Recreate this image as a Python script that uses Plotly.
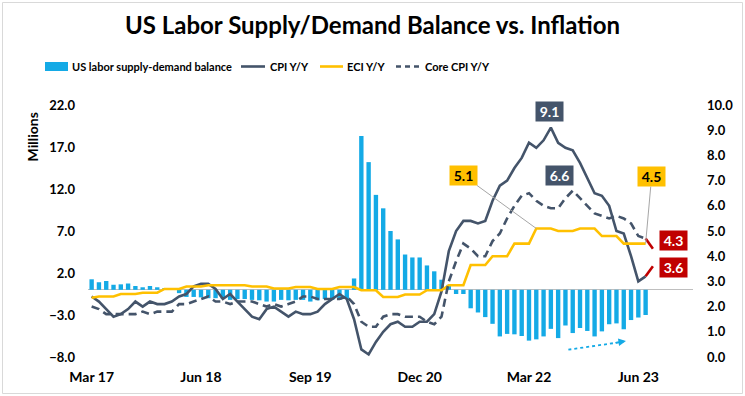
import pandas as pd
import plotly.graph_objects as go

# ---------------- data ----------------
months = pd.date_range("2017-03-01", "2023-08-01", freq="MS").strftime("%b %y").tolist()

tick_labels = ["Mar 17", "Jun 18", "Sep 19", "Dec 20", "Mar 22", "Jun 23"]

# US labor supply-demand balance (millions), Mar 17 .. Jul 23
labor_balance = [
    1.25, 0.9, 1.05, 0.6, 0.65, 0.75, 0.45, 0.3, 0.45, 0.3, 0.15, 0.05,
    -0.4, -0.85, -0.85, -0.9, -1.0, -1.0, -1.05, -1.2, -1.1, -1.1, -1.2, -1.25,
    -1.4, -1.4, -1.2, -1.25, -1.2, -1.2, -1.4, -1.25, -1.1, -1.2, -1.2, -1.1,
    1.35, 18.3, 15.2, 11.3, 9.7, 7.0, 6.0, 4.2, 3.85, 3.85, 2.9, 2.2, 1.2, 0.6,
    -0.5, -0.5, -2.2, -2.7, -3.25, -4.05, -5.55, -5.25, -5.3, -5.5, -6.05, -5.9,
    -5.55, -4.65, -5.75, -4.25, -5.15, -4.55, -4.9, -5.55, -4.95, -4.1, -4.0,
    -4.7, -3.6, -3.3, -3.0,
]

# CPI Y/Y (%), Mar 17 .. Aug 23
cpi = [
    2.4, 2.2, 1.9, 1.6, 1.7, 1.9, 2.2, 2.0, 2.2, 2.1,
    2.1, 2.2, 2.4, 2.5, 2.8, 2.9, 2.9, 2.7, 2.3, 2.5, 2.2, 1.9,
    1.6, 1.5, 1.9, 2.0, 1.8, 1.6, 1.8, 1.7, 1.7, 1.8, 2.1, 2.3,
    2.5, 2.3, 1.5, 0.3, 0.1, 0.6, 1.0, 1.3, 1.4, 1.2, 1.2, 1.4,
    1.4, 1.7, 2.6, 4.2, 5.0, 5.4, 5.4, 5.3, 5.4, 6.2, 6.8, 7.0,
    7.5, 7.9, 8.5, 8.3, 8.6, 9.1, 8.5, 8.3, 8.2, 7.7, 7.1, 6.5,
    6.4, 6.0, 5.0, 4.9, 4.0, 3.0, 3.2, 3.6,
]

# ECI Y/Y (%), quarterly values held by month, Mar 17 .. Jul 23
eci = [
    2.35,
    2.4, 2.4, 2.4, 2.5, 2.5, 2.5, 2.55, 2.55, 2.55,
    2.7, 2.7, 2.7, 2.8, 2.8, 2.8, 2.85, 2.85, 2.85, 2.85, 2.85, 2.85,
    2.8, 2.8, 2.8, 2.72, 2.72, 2.72, 2.78, 2.78, 2.78, 2.7, 2.7, 2.7,
    2.78, 2.78, 2.78, 2.65, 2.65, 2.65, 2.38, 2.38, 2.38, 2.48, 2.48, 2.48,
    2.65, 2.65, 2.65, 2.85, 2.85, 2.85, 3.65, 3.65, 3.65, 4.0, 4.0, 4.0,
    4.5, 4.5, 4.5, 5.1, 5.1, 5.1, 5.0, 5.0, 5.0, 5.1, 5.1, 5.1,
    4.8, 4.8, 4.8, 4.5, 4.5, 4.5,
    4.5,
]

# Core CPI Y/Y (%), Mar 17 .. Aug 23
core_cpi = [
    2.0, 1.9, 1.7, 1.7, 1.7, 1.7, 1.7, 1.8, 1.7, 1.8,
    1.8, 1.8, 2.1, 2.1, 2.2, 2.3, 2.4, 2.2, 2.2, 2.1, 2.2, 2.2,
    2.2, 2.1, 2.0, 2.1, 2.0, 2.1, 2.2, 2.4, 2.4, 2.3, 2.3, 2.3,
    2.3, 2.4, 2.1, 1.4, 1.2, 1.2, 1.6, 1.7, 1.7, 1.6, 1.6, 1.6,
    1.4, 1.3, 1.6, 3.0, 3.8, 4.5, 4.3, 4.0, 4.0, 4.6, 4.9, 5.5,
    6.0, 6.4, 6.5, 6.2, 6.0, 5.9, 5.9, 6.3, 6.6, 6.3, 6.0, 5.7,
    5.6, 5.5, 5.6, 5.5, 5.3, 4.8, 4.7, 4.3,
]

# ---------------- styling ----------------
BLUE = "#14AAE6"
SLATE = "#44546A"
GOLD = "#FFC000"
RED = "#C00000"
FONT = "Lato"

W, H = 745, 396
ML, MR, MT, MB = 88, 52, 105, 39
PW, PH = W - ML - MR, H - MT - MB


def px(xp):
    return (xp - ML) / PW


def py(yp):
    return (H - MB - yp) / PH


fig = go.Figure()

fig.add_trace(go.Bar(
    x=months[:len(labor_balance)], y=labor_balance, marker_color=BLUE,
    marker_line_width=0, name="US labor supply-demand balance", yaxis="y",
))
fig.add_trace(go.Scatter(
    x=months[:len(cpi) - 1], y=cpi[:-1], mode="lines",
    line=dict(color=SLATE, width=2.6), name="CPI Y/Y", yaxis="y2",
))
fig.add_trace(go.Scatter(
    x=months[len(cpi) - 2:len(cpi)], y=cpi[-2:], mode="lines",
    line=dict(color=RED, width=2.6), showlegend=False, yaxis="y2",
))
fig.add_trace(go.Scatter(
    x=months[:len(eci)], y=eci, mode="lines",
    line=dict(color=GOLD, width=2.6), name="ECI Y/Y", yaxis="y2",
))
fig.add_trace(go.Scatter(
    x=months[:len(core_cpi) - 1], y=core_cpi[:-1], mode="lines",
    line=dict(color=SLATE, width=2.6, dash="8px,5px"), name="Core CPI Y/Y", yaxis="y2",
))
fig.add_trace(go.Scatter(
    x=months[len(core_cpi) - 2:len(core_cpi)], y=core_cpi[-2:], mode="lines",
    line=dict(color=RED, width=2.6), showlegend=False, yaxis="y2",
))

tickfont = dict(family=FONT, size=13, color="#000000", weight="bold")

fig.update_layout(
    width=W, height=H,
    margin=dict(l=ML, r=MR, t=MT, b=MB, pad=0),
    paper_bgcolor="white", plot_bgcolor="white",
    showlegend=False,
    bargap=0.4,
    font=dict(family=FONT, color="#000000"),
    title=dict(
        text="<b>US Labor Supply/Demand Balance vs. Inflation</b>",
        x=0.5, xanchor="center", y=1 - 26 / H, yanchor="middle",
        font=dict(family=FONT, size=24, color="#000000"),
    ),
    xaxis=dict(
        type="category", categoryorder="array", categoryarray=months,
        range=[-0.5, 82.5], tickmode="array", tickvals=tick_labels,
        showgrid=False, showline=False, zeroline=False, ticks="",
        tickfont=dict(family=FONT, size=14, color="#000000", weight="bold"),
        ticklabelstandoff=10,
    ),
    yaxis=dict(
        range=[-8, 22], tick0=-8, dtick=5, tickformat=".1f",
        showgrid=False, showline=False, ticks="",
        zeroline=True, zerolinecolor="#BFBFBF", zerolinewidth=1,
        tickfont=tickfont, ticklabelstandoff=12,
    ),
    yaxis2=dict(
        range=[0, 10], dtick=1, tickformat=".1f", overlaying="y", side="right",
        showgrid=False, showline=False, zeroline=False, ticks="",
        tickfont=tickfont, ticklabelstandoff=13,
    ),
)

annotations = []
box_font = dict(family=FONT, size=14, weight="bold")


def box(text, x, y, bg, fc, xshift=0, yshift=0, **kw):
    d = dict(text=text, x=x, y=y, xref="x", yref="y2", bgcolor=bg,
             font=dict(box_font, color=fc), width=27, height=19, borderpad=0,
             xshift=xshift, yshift=yshift, showarrow=False)
    d.update(kw)
    annotations.append(d)


box("9.1", "Jun 22", 9.1, SLATE, "white", xshift=-1, yshift=16)
box("6.6", "Sep 22", 6.6, SLATE, "white", xshift=-13, yshift=15)
box("5.1", "Apr 22", 5.1, GOLD, "black", showarrow=True, ax=-73, ay=-53,
    arrowhead=0, arrowwidth=1, arrowcolor="#A6A6A6")
box("4.5", "Jul 23", 4.5, GOLD, "black", showarrow=True, ax=6, ay=-67,
    arrowhead=0, arrowwidth=1, arrowcolor="#A6A6A6")
box("4.3", "Aug 23", 4.3, RED, "white", xshift=20.5, yshift=8)
box("3.6", "Aug 23", 3.6, RED, "white", xshift=20.5, yshift=-1.5)

# Millions axis title
annotations.append(dict(text="<b>Millions</b>", x=px(31.5), y=py(137), xref="paper", yref="paper",
                        xanchor="center", yanchor="middle",
                        textangle=-90, showarrow=False, font=dict(family=FONT, size=14, color="#000000")))

# dotted trend arrow head
annotations.append(dict(text="", x=73.3, y=0.63, xref="x", yref="y2", ax=-12, ay=1.8,
                        showarrow=True, arrowhead=2, arrowsize=1, arrowwidth=1.5, arrowcolor=BLUE))

# custom legend texts
leg_y = py(66.5)
legend_items = [
    ("US labor supply-demand balance", 70),
    ("CPI Y/Y", 268),
    ("ECI Y/Y", 345),
    ("Core CPI Y/Y", 423),
]
for txt, xl in legend_items:
    annotations.append(dict(text=f"<b>{txt}</b>", x=px(xl), y=leg_y, xref="paper", yref="paper",
                            xanchor="left", yanchor="middle", showarrow=False,
                            font=dict(family=FONT, size=11, color="#000000")))

shapes = [
    # outer border
    dict(type="rect", xref="paper", yref="paper", x0=px(2.5), x1=px(742.5), y0=py(393.5), y1=py(2.5),
         line=dict(color="#D9D9D9", width=1), fillcolor="rgba(0,0,0,0)", layer="below"),
    # legend symbols
    dict(type="rect", xref="paper", yref="paper", x0=px(45), x1=px(68), y0=py(71), y1=py(62),
         line=dict(width=0), fillcolor=BLUE),
    dict(type="line", xref="paper", yref="paper", x0=px(241), x1=px(265), y0=leg_y, y1=leg_y,
         line=dict(color=SLATE, width=2.6)),
    dict(type="line", xref="paper", yref="paper", x0=px(320), x1=px(343), y0=leg_y, y1=leg_y,
         line=dict(color=GOLD, width=2.6)),
    dict(type="line", xref="paper", yref="paper", x0=px(396), x1=px(420), y0=leg_y, y1=leg_y,
         line=dict(color=SLATE, width=2.6, dash="5px,4px")),
    # dotted trend line
    dict(type="line", xref="x", yref="y2", x0=65.4, x1=72.8, y0=0.29, y1=0.6,
         line=dict(color=BLUE, width=1.8, dash="dot")),
]

fig.update_layout(annotations=annotations, shapes=shapes)

fig.write_html("out.html", config={"displayModeBar": False},
               post_script="document.body.style.margin='0px';")
